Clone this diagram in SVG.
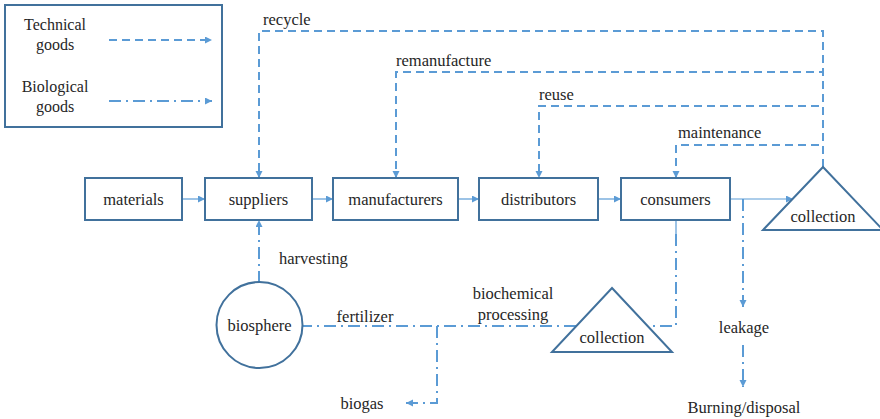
<svg xmlns="http://www.w3.org/2000/svg" width="880" height="419" viewBox="0 0 880 419">
  <defs>
    <marker id="arr" markerUnits="userSpaceOnUse" markerWidth="8" markerHeight="8" refX="7" refY="3.5" orient="auto">
      <path d="M0,0 L7,3.5 L0,7 z" fill="#5b9bd5"/>
    </marker>
    <style>
      text { font-family: "Liberation Serif", "Times New Roman", Times, "Nimbus Roman", "DejaVu Serif", serif; fill: #262626; }
      .lbl { font-size: 16.5px; }
      .lg { font-size: 16px; text-anchor: middle; }
      .mid { text-anchor: middle; }
      .box { fill: #ffffff; stroke: #41719c; stroke-width: 2; }
      .flow { fill: none; stroke: #5b9bd5; stroke-width: 1.2; }
      .tech { fill: none; stroke: #5b9bd5; stroke-width: 2; stroke-dasharray: 8 5; }
      .bio { fill: none; stroke: #5b9bd5; stroke-width: 2; stroke-dasharray: 12 5 2 5; }
    </style>
  </defs>
  <rect width="880" height="419" fill="#ffffff"/>

  <!-- legend -->
  <g id="legend">
    <rect x="5" y="5" width="217" height="122" fill="#ffffff" stroke="#41719c" stroke-width="2"/>
    <text class="lg" x="55" y="30">Technical</text>
    <text class="lg" x="55" y="50">goods</text>
    <line class="tech" x1="109" y1="40" x2="212" y2="40" marker-end="url(#arr)"/>
    <text class="lg" x="55" y="92">Biological</text>
    <text class="lg" x="55" y="112">goods</text>
    <line class="bio" x1="109" y1="101" x2="212" y2="101" marker-end="url(#arr)"/>
  </g>

  <!-- connectors -->
  <g id="connectors">
    <!-- main chain -->
    <line class="flow" x1="182" y1="199" x2="205" y2="199" marker-end="url(#arr)"/>
    <line class="flow" x1="312" y1="199" x2="333" y2="199" marker-end="url(#arr)"/>
    <line class="flow" x1="458" y1="199" x2="479" y2="199" marker-end="url(#arr)"/>
    <line class="flow" x1="598" y1="199" x2="621" y2="199" marker-end="url(#arr)"/>
    <line class="flow" x1="730" y1="199" x2="793" y2="199" marker-end="url(#arr)"/>

    <!-- technical loops -->
    <path class="tech" d="M823,167 V31 H259 V178" marker-end="url(#arr)"/>
    <path class="tech" d="M823,167 V72 H396 V178" marker-end="url(#arr)"/>
    <path class="tech" d="M823,167 V106 H539 V178" marker-end="url(#arr)"/>
    <path class="tech" d="M823,167 V145 H676 V178" marker-end="url(#arr)"/>

    <!-- biological loops -->
    <line class="flow" x1="676" y1="220" x2="676" y2="234"/>
    <path class="bio" d="M676,234 V326 H303"/>
    <path class="bio" d="M437,326 V403 H406" marker-end="url(#arr)"/>
    <path class="bio" d="M259,283 V220" marker-end="url(#arr)"/>
    <path class="bio" d="M743,199 V307" marker-end="url(#arr)"/>
    <path class="bio" d="M743,345 V387" marker-end="url(#arr)"/>
  </g>

  <!-- connector labels -->
  <g id="labels">
    <text class="lbl" x="263" y="25">recycle</text>
    <text class="lbl" x="396" y="66">remanufacture</text>
    <text class="lbl" x="539" y="100">reuse</text>
    <text class="lbl" x="678" y="138">maintenance</text>
    <text class="lbl" x="279" y="264">harvesting</text>
    <text class="lbl mid" x="365" y="322">fertilizer</text>
    <text class="lbl mid" x="513" y="299">biochemical</text>
    <text class="lbl mid" x="513" y="320">processing</text>
    <text class="lbl mid" x="362" y="409">biogas</text>
    <text class="lbl mid" x="744" y="333">leakage</text>
    <text class="lbl mid" x="744" y="413">Burning/disposal</text>
  </g>

  <!-- nodes -->
  <g id="materials">
    <rect class="box" x="85" y="178" width="97" height="42"/>
    <text class="lbl mid" x="133.5" y="205">materials</text>
  </g>
  <g id="suppliers">
    <rect class="box" x="205" y="178" width="107" height="42"/>
    <text class="lbl mid" x="258.5" y="205">suppliers</text>
  </g>
  <g id="manufacturers">
    <rect class="box" x="333" y="178" width="125" height="42"/>
    <text class="lbl mid" x="395.5" y="205">manufacturers</text>
  </g>
  <g id="distributors">
    <rect class="box" x="479" y="178" width="119" height="42"/>
    <text class="lbl mid" x="538.5" y="205">distributors</text>
  </g>
  <g id="consumers">
    <rect class="box" x="621" y="178" width="109" height="42"/>
    <text class="lbl mid" x="675.5" y="205">consumers</text>
  </g>
  <g id="collection-technical">
    <path class="box" d="M823,167 L883,230 L763,230 z"/>
    <text class="lbl mid" x="823" y="222">collection</text>
  </g>
  <g id="collection-biological">
    <path class="box" d="M612,288 L672,352 L552,352 z"/>
    <text class="lbl mid" x="612" y="343">collection</text>
  </g>
  <g id="biosphere">
    <circle class="box" cx="259.5" cy="325" r="43"/>
    <text class="lbl mid" x="259.5" y="331">biosphere</text>
  </g>
</svg>
